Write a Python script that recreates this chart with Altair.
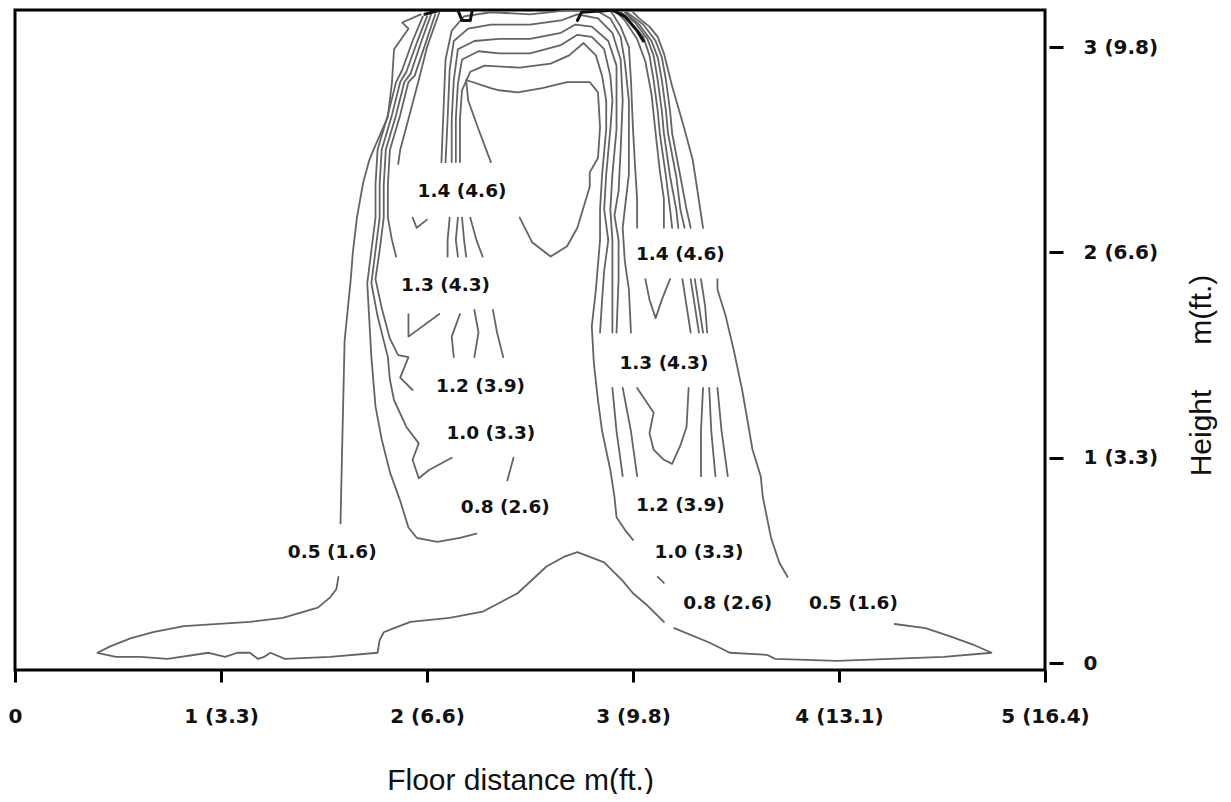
import json
import altair as alt
import pandas as pd

# ---------------- axis ticks ----------------
x_tick_values = [0, 1, 2, 3, 4, 5]
x_tick_labels = ["0", "1 (3.3)", "2 (6.6)", "3 (9.8)", "4 (13.1)", "5 (16.4)"]
y_tick_values = [0, 1, 2, 3]
y_tick_labels = ["0", "1 (3.3)", "2 (6.6)", "3 (9.8)"]

# ---------------- contour labels ----------------
label_text = ["1.4 (4.6)", "1.3 (4.3)", "1.2 (3.9)", "1.0 (3.3)", "0.8 (2.6)", "0.5 (1.6)",
              "1.4 (4.6)", "1.3 (4.3)", "1.2 (3.9)", "1.0 (3.3)", "0.8 (2.6)", "0.5 (1.6)"]
label_x = [2.17, 2.09, 2.26, 2.31, 2.38, 1.54, 3.23, 3.15, 3.23, 3.32, 3.46, 4.07]
label_y = [2.30, 1.84, 1.35, 1.12, 0.76, 0.54, 1.99, 1.46, 0.77, 0.54, 0.29, 0.29]

# ---------------- contour traces (floor distance m, height m) ----------------
outer05_left_upper = [(1.97, 3.16), (1.88, 3.12), (1.91, 3.09), (1.84, 2.99), (1.83, 2.83), (1.81, 2.66),
                      (1.74, 2.50), (1.72, 2.45), (1.69, 2.34), (1.66, 2.17), (1.64, 2.00), (1.63, 1.87),
                      (1.60, 1.57), (1.59, 1.13), (1.58, 0.68)]
outer05_left_lower = [(1.57, 0.42), (1.56, 0.36), (1.53, 0.32), (1.47, 0.27), (1.30, 0.22), (1.14, 0.20),
                      (0.82, 0.18), (0.67, 0.15), (0.56, 0.12), (0.46, 0.08), (0.40, 0.05), (0.49, 0.03),
                      (0.61, 0.03), (0.74, 0.02), (0.94, 0.05), (1.02, 0.03), (1.08, 0.05), (1.14, 0.05),
                      (1.18, 0.02), (1.21, 0.03), (1.24, 0.05), (1.31, 0.02), (1.53, 0.03), (1.76, 0.05),
                      (1.77, 0.11), (1.79, 0.15), (1.84, 0.17), (1.92, 0.20), (2.11, 0.22), (2.27, 0.25),
                      (2.44, 0.34), (2.58, 0.47), (2.67, 0.52), (2.73, 0.54), (2.86, 0.49), (2.95, 0.40),
                      (3.00, 0.34), (3.07, 0.28), (3.15, 0.20)]
outer05_right_lower = [(3.20, 0.17), (3.37, 0.10), (3.47, 0.05), (3.65, 0.04), (3.69, 0.02), (3.99, 0.01),
                       (4.25, 0.02), (4.51, 0.03), (4.74, 0.05), (4.65, 0.09), (4.54, 0.13), (4.42, 0.17),
                       (4.27, 0.19)]
outer05_right_mid = [(3.75, 0.42), (3.71, 0.49), (3.67, 0.61), (3.63, 0.81), (3.62, 0.91), (3.58, 1.04),
                     (3.53, 1.33), (3.49, 1.52), (3.45, 1.69), (3.41, 1.82), (3.41, 1.87)]
outer05_right_upper = [(3.34, 2.12), (3.31, 2.32), (3.29, 2.45), (3.25, 2.60), (3.21, 2.74), (3.19, 2.81),
                       (3.17, 2.89), (3.15, 2.97), (3.12, 3.05), (3.08, 3.10), (3.03, 3.14), (3.00, 3.17)]

left08 = [(1.98, 3.15), (1.93, 3.03), (1.88, 2.89), (1.85, 2.83), (1.81, 2.67), (1.76, 2.50), (1.75, 2.33),
          (1.75, 2.17), (1.73, 2.01), (1.71, 1.85), (1.72, 1.67), (1.73, 1.49), (1.75, 1.25), (1.78, 1.09),
          (1.82, 0.93), (1.87, 0.79), (1.91, 0.66), (1.95, 0.61), (2.05, 0.59), (2.16, 0.61), (2.24, 0.63)]
left10 = [(2.00, 3.15), (1.95, 3.02), (1.90, 2.88), (1.87, 2.83), (1.83, 2.67), (1.78, 2.50), (1.77, 2.33),
          (1.77, 2.17), (1.75, 2.01), (1.73, 1.85), (1.76, 1.69), (1.81, 1.49), (1.82, 1.38), (1.84, 1.28),
          (1.90, 1.15), (1.96, 1.07), (1.93, 0.99), (1.96, 0.90), (2.01, 0.94), (2.12, 1.00)]
left10_dash = [(2.42, 1.00), (2.39, 0.89)]
left12 = [(2.02, 3.16), (1.97, 3.02), (1.92, 2.87), (1.89, 2.83), (1.85, 2.67), (1.80, 2.50), (1.79, 2.33),
          (1.79, 2.17), (1.77, 2.01), (1.75, 1.87), (1.78, 1.73), (1.82, 1.58), (1.86, 1.50), (1.91, 1.49),
          (1.87, 1.39), (1.93, 1.33)]
left13 = [(2.04, 3.16), (1.99, 3.01), (1.94, 2.86), (1.91, 2.83), (1.87, 2.67), (1.82, 2.50), (1.81, 2.33),
          (1.81, 2.17), (1.83, 2.06), (1.85, 1.98)]
left14 = [(2.06, 3.17), (2.00, 3.00), (1.96, 2.84), (1.91, 2.65), (1.87, 2.50), (1.86, 2.43)]
left_tick = [(1.93, 2.17), (1.95, 2.12), (2.00, 2.16)]
left_hook = [(1.91, 1.70), (1.91, 1.59), (2.06, 1.70)]

mid_a = [(2.11, 2.17), (2.10, 2.06), (2.10, 1.98)]
mid_b = [(2.15, 2.17), (2.14, 2.06), (2.15, 1.98)]
mid_c = [(2.17, 2.17), (2.18, 2.06), (2.19, 1.98)]
mid_d = [(2.21, 2.17), (2.24, 2.06), (2.27, 1.98)]
mid_e = [(2.16, 1.70), (2.12, 1.59), (2.13, 1.49)]
mid_f = [(2.23, 1.72), (2.25, 1.61), (2.23, 1.49)]
mid_g = [(2.32, 1.72), (2.34, 1.61), (2.37, 1.49)]

arch1 = [(2.16, 2.44), (2.16, 2.65), (2.17, 2.79), (2.21, 2.88), (2.28, 2.91), (2.45, 2.90), (2.60, 2.92),
         (2.69, 2.96), (2.76, 3.02), (2.82, 2.96), (2.85, 2.86), (2.87, 2.74), (2.87, 2.60), (2.85, 2.38),
         (2.84, 2.21), (2.84, 2.06), (2.82, 1.82), (2.80, 1.64), (2.81, 1.46), (2.83, 1.28), (2.85, 1.13),
         (2.89, 0.94), (2.91, 0.81), (2.92, 0.71), (2.96, 0.65), (3.00, 0.60)]
arch2 = [(2.14, 2.44), (2.14, 2.65), (2.15, 2.82), (2.17, 2.94), (2.25, 2.98), (2.35, 2.97), (2.50, 2.97),
         (2.65, 3.01), (2.73, 3.06), (2.80, 3.05), (2.86, 2.99), (2.89, 2.86), (2.90, 2.74), (2.89, 2.60),
         (2.87, 2.38), (2.86, 2.21), (2.88, 2.06), (2.86, 1.91), (2.85, 1.77), (2.84, 1.61)]
arch3 = [(2.12, 2.44), (2.12, 2.65), (2.13, 2.84), (2.15, 2.99), (2.23, 3.03), (2.35, 3.04), (2.50, 3.04),
         (2.65, 3.07), (2.72, 3.11), (2.80, 3.10), (2.88, 3.03), (2.92, 2.91), (2.92, 2.74), (2.92, 2.60),
         (2.90, 2.38), (2.89, 2.21), (2.90, 2.06), (2.90, 1.87), (2.90, 1.61)]
arch4 = [(2.09, 2.44), (2.10, 2.65), (2.11, 2.89), (2.13, 3.03), (2.20, 3.09), (2.31, 3.11), (2.50, 3.11),
         (2.65, 3.13), (2.73, 3.16), (2.83, 3.14), (2.90, 3.07), (2.94, 2.94), (2.95, 2.74), (2.94, 2.50),
         (2.93, 2.30), (2.91, 2.18), (2.93, 2.06), (2.93, 1.87), (2.92, 1.61)]
arch5 = [(2.07, 2.44), (2.08, 2.69), (2.09, 2.94), (2.12, 3.08), (2.18, 3.15), (2.31, 3.17), (2.50, 3.16),
         (2.69, 3.18), (2.82, 3.18), (2.89, 3.14), (2.94, 3.05), (2.96, 2.93), (2.98, 2.74), (2.98, 2.57),
         (2.98, 2.38), (2.96, 2.21), (2.95, 2.12), (2.96, 1.96), (2.98, 1.82), (2.99, 1.61)]
arch2_low = [(2.90, 1.34), (2.92, 1.13), (2.95, 0.91)]
arch3_low = [(2.95, 1.34), (2.99, 1.13), (3.02, 0.91)]
right08_dash = [(3.12, 0.42), (3.15, 0.39)]

center_loop = [(2.31, 2.44), (2.25, 2.60), (2.20, 2.74), (2.19, 2.84), (2.31, 2.80), (2.35, 2.79), (2.44, 2.78),
               (2.56, 2.80), (2.68, 2.83), (2.79, 2.83), (2.83, 2.78), (2.84, 2.61), (2.83, 2.46), (2.79, 2.39),
               (2.79, 2.32), (2.76, 2.22), (2.73, 2.12), (2.68, 2.03), (2.60, 1.98), (2.51, 2.05), (2.45, 2.17)]

tongue_left = [(2.89, 3.18), (2.94, 3.10), (2.98, 3.00), (2.99, 2.84), (3.00, 2.60), (3.01, 2.42), (3.02, 2.26),
               (3.02, 2.12)]
tongue_tip = [(3.06, 1.87), (3.08, 1.77), (3.11, 1.68), (3.14, 1.77), (3.18, 1.87)]
tongue_right = [(3.15, 2.12), (3.15, 2.26), (3.13, 2.40), (3.11, 2.58), (3.09, 2.77), (3.06, 2.93), (3.02, 3.04),
                (2.96, 3.13), (2.91, 3.18)]

right_b2 = [(2.93, 3.17), (2.99, 3.12), (3.05, 3.05), (3.08, 2.96), (3.10, 2.84), (3.12, 2.69), (3.13, 2.58),
            (3.16, 2.37), (3.18, 2.21), (3.19, 2.12)]
right_b3 = [(2.94, 3.17), (3.01, 3.12), (3.07, 3.04), (3.10, 2.96), (3.12, 2.84), (3.14, 2.69), (3.15, 2.58),
            (3.18, 2.37), (3.21, 2.21), (3.22, 2.12)]
right_b4 = [(2.96, 3.17), (3.03, 3.11), (3.09, 3.03), (3.12, 2.95), (3.14, 2.84), (3.16, 2.69), (3.17, 2.58),
            (3.21, 2.37), (3.23, 2.21), (3.25, 2.12)]
right_b5 = [(2.97, 3.17), (3.05, 3.11), (3.11, 3.03), (3.14, 2.95), (3.16, 2.84), (3.18, 2.69), (3.19, 2.58),
            (3.23, 2.37), (3.26, 2.21), (3.28, 2.12)]
right_mid1 = [(3.24, 1.87), (3.26, 1.74), (3.28, 1.61)]
right_mid2 = [(3.28, 1.87), (3.30, 1.74), (3.32, 1.61)]
right_mid3 = [(3.30, 1.87), (3.32, 1.74), (3.34, 1.61)]
right_mid4 = [(3.33, 1.87), (3.35, 1.74), (3.36, 1.61)]
right_v_low = [(3.02, 1.34), (3.06, 1.28), (3.10, 1.22), (3.08, 1.12), (3.10, 1.04), (3.15, 0.99), (3.19, 0.97),
               (3.23, 1.06), (3.26, 1.15), (3.27, 1.34)]
right_low1 = [(3.34, 1.34), (3.33, 1.13), (3.33, 0.91)]
right_low2 = [(3.37, 1.34), (3.38, 1.13), (3.40, 0.91)]
right_low3 = [(3.41, 1.34), (3.43, 1.13), (3.46, 0.91)]

dark_left = [(1.99, 3.16), (2.06, 3.18), (2.15, 3.18)]
dark_left_box = [(2.15, 3.18), (2.17, 3.13), (2.21, 3.13), (2.22, 3.18)]
dark_right = [(2.73, 3.13), (2.75, 3.17), (2.90, 3.18), (2.96, 3.15), (3.02, 3.08), (3.05, 3.03)]

contour_segments = [
    ("outer05_left_upper", outer05_left_upper), ("outer05_left_lower", outer05_left_lower),
    ("outer05_right_lower", outer05_right_lower), ("outer05_right_mid", outer05_right_mid),
    ("outer05_right_upper", outer05_right_upper),
    ("left08", left08), ("left10", left10), ("left10_dash", left10_dash), ("left12", left12),
    ("left13", left13), ("left14", left14), ("left_tick", left_tick), ("left_hook", left_hook),
    ("mid_a", mid_a), ("mid_b", mid_b), ("mid_c", mid_c), ("mid_d", mid_d),
    ("mid_e", mid_e), ("mid_f", mid_f), ("mid_g", mid_g),
    ("arch1", arch1), ("arch2", arch2), ("arch3", arch3), ("arch4", arch4), ("arch5", arch5),
    ("arch2_low", arch2_low), ("arch3_low", arch3_low), ("right08_dash", right08_dash),
    ("center_loop", center_loop),
    ("tongue_left", tongue_left), ("tongue_tip", tongue_tip), ("tongue_right", tongue_right),
    ("right_b2", right_b2), ("right_b3", right_b3), ("right_b4", right_b4), ("right_b5", right_b5),
    ("right_mid1", right_mid1), ("right_mid2", right_mid2), ("right_mid3", right_mid3),
    ("right_mid4", right_mid4),
    ("right_v_low", right_v_low), ("right_low1", right_low1), ("right_low2", right_low2),
    ("right_low3", right_low3),
]
dark_segments = [("dark_left", dark_left), ("dark_left_box", dark_left_box), ("dark_right", dark_right)]


def to_frame(segments):
    rows = []
    for name, pts in segments:
        for i, (xv, yv) in enumerate(pts):
            rows.append({"seg": name, "i": i, "x": xv, "y": yv})
    return pd.DataFrame(rows)


contours_df = to_frame(contour_segments)
dark_df = to_frame(dark_segments)
labels_df = pd.DataFrame({"text": label_text, "x": label_x, "y": label_y})

x_scale = alt.Scale(domain=[0, 5], nice=False, zero=False)
y_scale = alt.Scale(domain=[-0.034, 3.181], nice=False, zero=False)

x_axis = alt.Axis(
    values=x_tick_values,
    labelExpr=f"{json.dumps(x_tick_labels)}[datum.value]",
    domain=False, grid=False,
    ticks=True, tickSize=12, tickWidth=3, tickColor="black",
    labelFont="DejaVu Sans", labelFontWeight="bold", labelFontSize=20, labelColor="#111111",
    labelPadding=24, labelFlush=False, labelOverlap=False,
    title="Floor distance m(ft.)", titleFont="Liberation Sans", titleFontSize=30,
    titleFontWeight="normal", titleColor="#111111",
    titleX=505, titleY=110, titleAlign="center", titleBaseline="middle",
)
y_axis = alt.Axis(
    orient="right",
    values=y_tick_values,
    labelExpr=f"{json.dumps(y_tick_labels)}[datum.value]",
    domain=False, grid=False, offset=4,
    ticks=True, tickSize=14, tickWidth=3, tickColor="black",
    labelFont="DejaVu Sans", labelFontWeight="bold", labelFontSize=20, labelColor="#111111",
    labelPadding=20, labelAlign="left", labelFlush=False, labelOverlap=False,
    title="Height\u2003\u2002m(ft.)", titleFont="Liberation Sans", titleFontSize=30,
    titleFontWeight="normal", titleColor="#111111",
    titleAngle=270, titleX=152, titleY=365, titleAlign="center", titleBaseline="middle",
)

X_ENC = alt.X("x:Q", scale=x_scale, axis=x_axis)
Y_ENC = alt.Y("y:Q", scale=y_scale, axis=y_axis)

lines = alt.Chart(contours_df).mark_line(
    color="#646464", strokeWidth=1.8, clip=True, strokeCap="round", strokeJoin="round"
).encode(x=X_ENC, y=Y_ENC, detail="seg:N", order="i:Q")

dark = alt.Chart(dark_df).mark_line(
    color="#111111", strokeWidth=3, clip=True, strokeCap="round", strokeJoin="round"
).encode(x=X_ENC, y=Y_ENC, detail="seg:N", order="i:Q")

texts = alt.Chart(labels_df).mark_text(
    font="DejaVu Sans", fontWeight="bold", fontSize=18.5, color="#111111",
    align="center", baseline="middle"
).encode(x=X_ENC, y=Y_ENC, text="text:N")

chart = alt.layer(lines, dark, texts).properties(
    width=1030,
    height=660,
    autosize=alt.AutoSizeParams(type="none"),
    padding={"left": 7, "top": 2, "right": 178, "bottom": 124},
    background="white",
).configure_view(
    stroke="black", strokeWidth=3
)

chart.save("out.html", embed_options={"renderer": "svg", "actions": False})
